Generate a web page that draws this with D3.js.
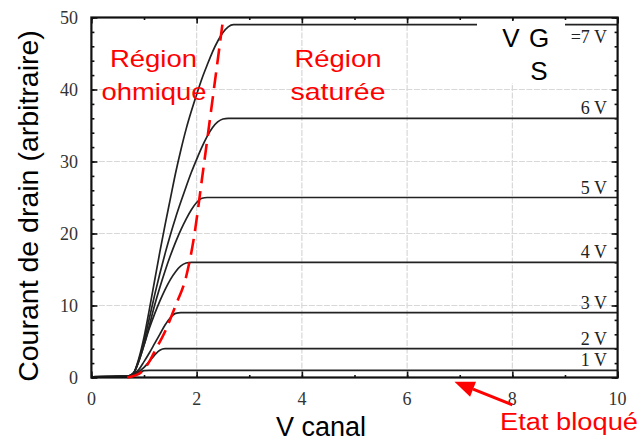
<!DOCTYPE html>
<html><head><meta charset="utf-8">
<script src="https://cdn.jsdelivr.net/npm/d3@7"></script>
<style>body{margin:0;background:#fff}svg{display:block}</style>
</head><body>
<svg id="c" width="639" height="441"></svg>
<script>
// ---- data ----
const xTicks = [0, 2, 4, 6, 8, 10];
const yTicks = [0, 10, 20, 30, 40, 50];
const vgsLabels = ["=7 V", "6 V", "5 V", "4 V", "3 V", "2 V", "1 V"];
const satLevels = [49, 36, 25, 16, 9, 4, 1];
const curve7 = [[0,0.1],[0.7,0.2],[0.8,0.6],[0.9,2.6],[1.0,5.6],[1.1,9.4],[1.2,13.4],[1.3,17.4],[1.4,21.2],[1.5,24.8],[1.6,28.4],[1.7,31.6],[1.8,34.5],[1.9,37],[2.0,39.3],[2.1,41.5],[2.2,43.4],[2.3,45.2],[2.4,46.7],[2.5,47.9],[2.6,48.7],[2.7,49],[10,49]];
const curve6 = [[0,0.1],[0.7,0.2],[0.8,0.6],[0.9,2.4],[1.0,5.0],[1.1,8.2],[1.2,11.4],[1.3,14.4],[1.4,17.2],[1.5,19.8],[1.6,22.2],[1.7,24.4],[1.8,26.5],[1.9,28.5],[2.0,30.3],[2.1,32],[2.2,33.5],[2.3,34.7],[2.4,35.5],[2.5,35.9],[2.6,36],[10,36]];
const curve5 = [[0,0.1],[0.7,0.2],[0.8,0.6],[0.9,2.2],[1.0,4.5],[1.1,7.2],[1.2,10],[1.3,12.5],[1.4,14.8],[1.5,16.9],[1.6,18.8],[1.7,20.5],[1.8,22],[1.9,23.3],[2.0,24.3],[2.1,24.9],[2.2,25],[10,25]];
const curve4 = [[0,0.1],[0.7,0.2],[0.8,0.6],[0.9,2.3],[1.0,4.5],[1.1,6.8],[1.2,8.8],[1.3,10.6],[1.4,12.2],[1.5,13.6],[1.6,14.7],[1.7,15.5],[1.8,15.9],[1.9,16],[10,16]];
const curve3 = [[0,0.1],[0.7,0.2],[0.8,0.5],[0.9,1.1],[1.0,2.2],[1.1,3.4],[1.2,4.7],[1.3,6.0],[1.4,7.3],[1.5,8.3],[1.6,8.9],[1.7,9],[10,9]];
const curve2 = [[0,0.1],[0.7,0.2],[0.8,0.4],[0.9,0.8],[1.0,1.4],[1.1,2.2],[1.2,3.1],[1.3,3.8],[1.4,4],[10,4]];
const curve1 = [[0,0.1],[0.7,0.2],[0.8,0.4],[0.9,0.7],[1.0,0.95],[1.1,1],[10,1]];
const boundary = [[0.68,0],[0.8,0.2],[0.96,0.8],[1.1,2.2],[1.2,3.6],[1.4,6.4],[1.6,10],[1.8,14],[1.95,19.5],[2.1,27.5],[2.3,38.5],[2.5,49.6]];
const curves = [curve7, curve6, curve5, curve4, curve3, curve2, curve1];
const arrowFrom = [8.0, -3.8], arrowTo = [6.9, -0.6];

// ---- chart ----
const svg = d3.select("#c");
const x = d3.scaleLinear().domain([0,10]).range([91.4, 617.6]);
const y = d3.scaleLinear().domain([0,50]).range([377.5, 17.5]);
const L = x(0), R = x(10), T = y(50), B = y(0);

// grid
const g = svg.append("g");
g.selectAll(".gx").data([2,4,6,8]).join("line")
  .attr("x1", d=>x(d)).attr("x2", d=>x(d)).attr("y1", T).attr("y2", B)
  .attr("stroke", "#d8d8d8").attr("stroke-width", 1.2).attr("stroke-dasharray", "6,1.5");
g.selectAll(".gy").data([10,20,30,40]).join("line")
  .attr("y1", d=>y(d)).attr("y2", d=>y(d)).attr("x1", L).attr("x2", R)
  .attr("stroke", "#d8d8d8").attr("stroke-width", 1.2).attr("stroke-dasharray", "6,1.5");

// axes with inward ticks
const tickStyle = sel => { sel.select(".domain").remove(); sel.selectAll("line").attr("stroke","#111").attr("stroke-width",1.6); };
const yMinor = d3.range(0, 51, 2);
const xMinor = d3.range(0, 11, 1);
svg.append("g").attr("transform", `translate(${L},0)`).call(d3.axisRight(y).tickValues(yMinor).tickSize(3).tickFormat("")).call(tickStyle);
svg.append("g").attr("transform", `translate(${L},0)`).call(d3.axisRight(y).tickValues(yTicks).tickSize(6).tickFormat("")).call(tickStyle);
svg.append("g").attr("transform", `translate(${R},0)`).call(d3.axisLeft(y).tickValues(yMinor).tickSize(3).tickFormat("")).call(tickStyle);
svg.append("g").attr("transform", `translate(${R},0)`).call(d3.axisLeft(y).tickValues(yTicks).tickSize(6).tickFormat("")).call(tickStyle);
svg.append("g").attr("transform", `translate(0,${B})`).call(d3.axisTop(x).tickValues(xMinor).tickSize(2.5).tickFormat("")).call(tickStyle);
svg.append("g").attr("transform", `translate(0,${B})`).call(d3.axisTop(x).tickValues(xTicks).tickSize(6).tickFormat("")).call(tickStyle);
svg.append("g").attr("transform", `translate(0,${T})`).call(d3.axisBottom(x).tickValues(xMinor).tickSize(2.5).tickFormat("")).call(tickStyle);
svg.append("g").attr("transform", `translate(0,${T})`).call(d3.axisBottom(x).tickValues(xTicks).tickSize(6).tickFormat("")).call(tickStyle);

// tick labels
const serif = "'Liberation Serif','DejaVu Serif',serif";
svg.append("g").selectAll("text").data(yTicks).join("text")
  .attr("x", 78).attr("y", d=>y(d)+6).attr("text-anchor","end")
  .attr("font-family", serif).attr("font-size", 18).attr("fill","#333").text(d=>d);
svg.append("g").selectAll("text").data(xTicks).join("text")
  .attr("x", d=>x(d)).attr("y", 405).attr("text-anchor","middle")
  .attr("font-family", serif).attr("font-size", 18).attr("fill","#333").text(d=>d);

// curves
const line = d3.line().x(d=>x(d[0])).y(d=>y(d[1])).curve(d3.curveMonotoneX);
svg.append("g").selectAll("path").data(curves).join("path")
  .attr("d", line).attr("fill","none").attr("stroke","#222").attr("stroke-width",1.7);

// frame
svg.append("rect").attr("x", L).attr("y", T).attr("width", R-L).attr("height", B-T)
  .attr("fill","none").attr("stroke","#111").attr("stroke-width",2.2);

// boundary dashed red
svg.append("path").datum(boundary).attr("d", d3.line().x(d=>x(d[0])).y(d=>y(d[1])).curve(d3.curveMonotoneX))
  .attr("fill","none").attr("stroke","#f00").attr("stroke-width",2.6).attr("stroke-dasharray","16,8");

// VGS labels on right
svg.append("g").selectAll("text").data(vgsLabels).join("text")
  .attr("x", 607).attr("y", (d,i)=>y(satLevels[i]) - (i===0 ? -18 : 4)).attr("text-anchor","end")
  .attr("font-family", serif).attr("font-size", 18).attr("fill","#222").text(d=>d);

// white box with V G S
svg.append("rect").attr("x", 477).attr("y", 21).attr("width", 88).attr("height", 62).attr("fill","#fff");
const sans = "'Liberation Sans',Arial,sans-serif";
svg.append("text").attr("x", 511).attr("y", 47).attr("text-anchor","middle").attr("font-family",sans).attr("font-size",26).attr("fill","#000").text("V");
svg.append("text").attr("x", 539).attr("y", 47).attr("text-anchor","middle").attr("font-family",sans).attr("font-size",26).attr("fill","#000").text("G");
svg.append("text").attr("x", 539).attr("y", 80).attr("text-anchor","middle").attr("font-family",sans).attr("font-size",26).attr("fill","#000").text("S");

// red annotations
const redText = (t, cx, by, w, fs) => svg.append("text").attr("x", cx).attr("y", by).attr("text-anchor","middle")
  .attr("font-family", sans).attr("font-size", fs || 24).attr("fill","#f00")
  .attr("textLength", w).attr("lengthAdjust","spacingAndGlyphs").text(t);
redText("Région", 153.5, 67, 87);
redText("ohmique", 154, 100, 105);
redText("Région", 338, 67, 87);
redText("saturée", 338, 100, 95);
redText("Etat bloqué", 569, 430, 138, 23);

// arrow
const ax1 = x(arrowFrom[0]), ay1 = y(arrowFrom[1]), ax2 = x(arrowTo[0]), ay2 = y(arrowTo[1]);
const ang = Math.atan2(ay2-ay1, ax2-ax1), hl = 20, hw = 8;
const bx = ax2 - hl*Math.cos(ang), by = ay2 - hl*Math.sin(ang);
svg.append("line").attr("x1", ax1).attr("y1", ay1).attr("x2", bx).attr("y2", by).attr("stroke","#f00").attr("stroke-width",3);
svg.append("path").attr("d", `M${ax2},${ay2}L${bx+hw*Math.sin(ang)},${by-hw*Math.cos(ang)}L${bx-hw*Math.sin(ang)},${by+hw*Math.cos(ang)}Z`).attr("fill","#f00");

// axis titles
svg.append("text").attr("transform","translate(38,206) rotate(-90)").attr("text-anchor","middle")
  .attr("font-family",sans).attr("font-size",28.5).attr("fill","#000").text("Courant de drain (arbitraire)");
svg.append("text").attr("x", 321).attr("y", 436).attr("text-anchor","middle")
  .attr("font-family",sans).attr("font-size",27).attr("fill","#000").text("V canal");
</script>
</body></html>
